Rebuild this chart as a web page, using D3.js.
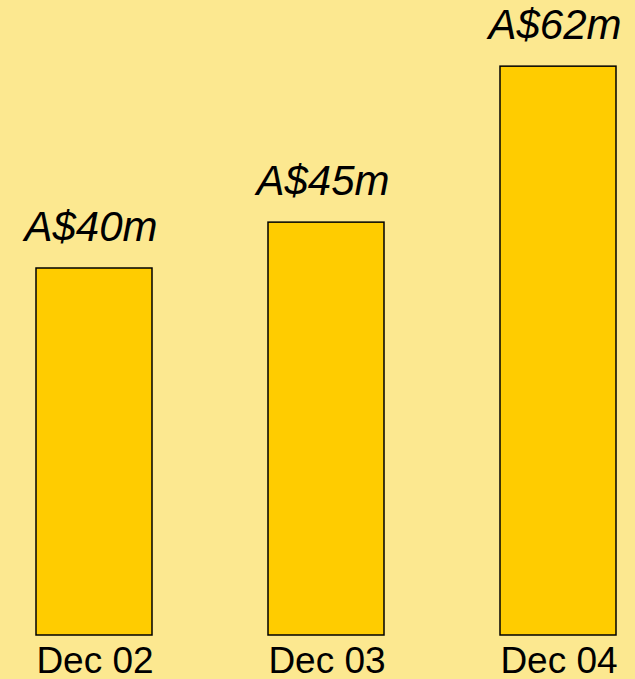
<!DOCTYPE html>
<html>
<head>
<meta charset="utf-8">
<script src="https://cdn.jsdelivr.net/npm/d3@7"></script>
<style>
  body { margin: 0; background: #fce890; }
  text { font-family: "Liberation Sans", Arial, sans-serif; fill: #000; }
</style>
</head>
<body>
<div id="chart"></div>
<script>
const periods = ["Dec 02", "Dec 03", "Dec 04"];
const values = [40, 45, 62];
const valueLabels = ["A$40m", "A$45m", "A$62m"];

const svgWidth = 635;
const svgHeight = 679;
const baseline = 635;

const svg = d3.select("#chart")
  .append("svg")
  .attr("width", svgWidth)
  .attr("height", svgHeight);

svg.append("rect")
  .attr("width", svgWidth)
  .attr("height", svgHeight)
  .attr("fill", "#fce890");

const x = d3.scaleBand()
  .domain(periods)
  .range([36, 616])
  .paddingInner(0.5)
  .paddingOuter(0);

// 40 -> 367px tall
const y = d3.scaleLinear()
  .domain([0, 40])
  .range([baseline, 268]);

const data = periods.map((p, i) => ({ period: p, value: values[i], label: valueLabels[i] }));

svg.selectAll("rect.bar")
  .data(data)
  .enter()
  .append("rect")
  .attr("class", "bar")
  .attr("x", d => x(d.period))
  .attr("y", d => y(d.value))
  .attr("width", x.bandwidth())
  .attr("height", d => baseline - y(d.value))
  .attr("fill", "#ffcc00")
  .attr("stroke", "#000")
  .attr("stroke-width", 1.5);

svg.selectAll("text.value")
  .data(data)
  .enter()
  .append("text")
  .attr("class", "value")
  .attr("x", d => x(d.period) + x.bandwidth() / 2 - 3)
  .attr("y", d => y(d.value) - 27)
  .attr("text-anchor", "middle")
  .style("font-size", "42px")
  .style("font-style", "italic")
  .text(d => d.label);

svg.selectAll("text.period")
  .data(data)
  .enter()
  .append("text")
  .attr("class", "period")
  .attr("x", d => x(d.period) + x.bandwidth() / 2 + 1)
  .attr("y", 673)
  .attr("text-anchor", "middle")
  .style("font-size", "37px")
  .text(d => d.period);
</script>
</body>
</html>
